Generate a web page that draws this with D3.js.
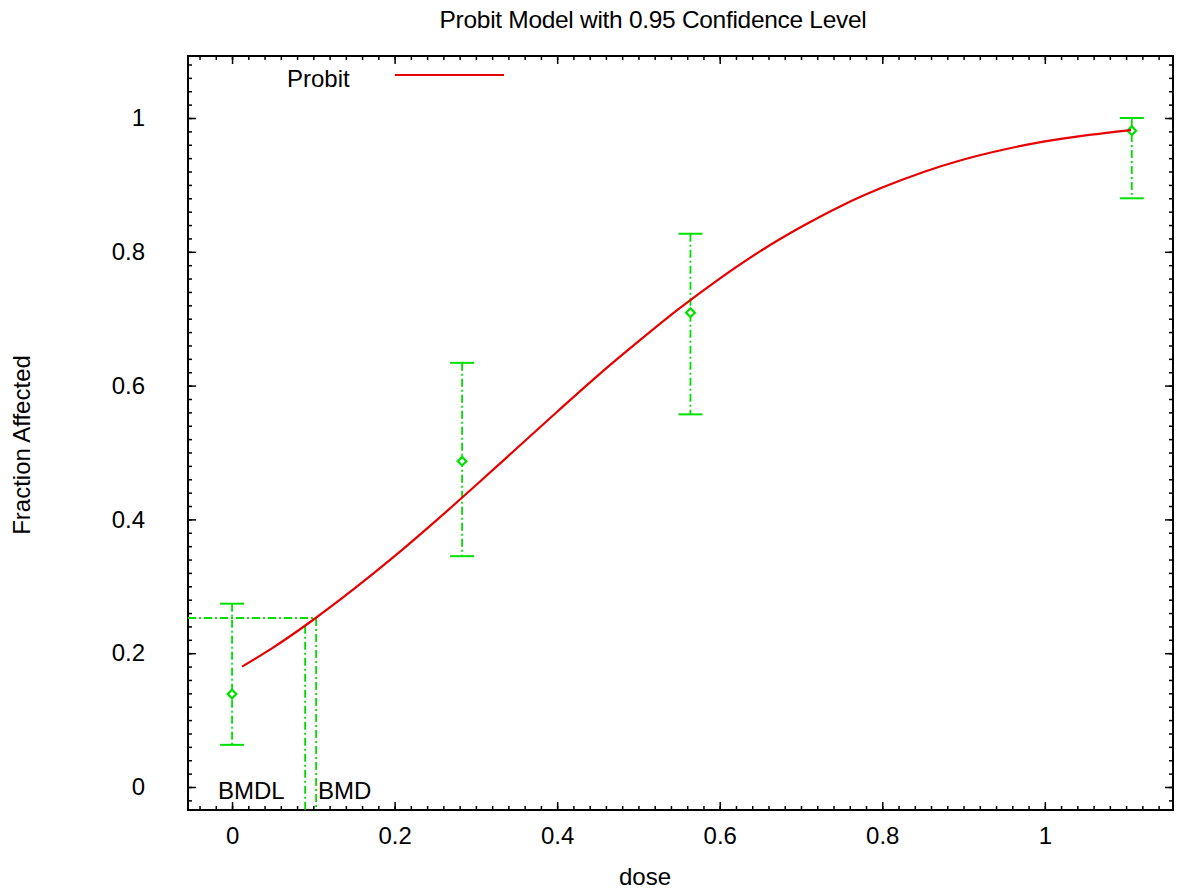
<!DOCTYPE html>
<html>
<head>
<meta charset="utf-8">
<script src="https://cdn.jsdelivr.net/npm/d3@7"></script>
<style>
  body { margin: 0; background: #fff; }
  text { font-family: "Liberation Sans", Arial, sans-serif; fill: #000; }
</style>
</head>
<body>
<svg id="chart" width="1177" height="890"></svg>
<script>
// observed data (dose, fraction affected, 95% limits)
var doses = [0, 0.283, 0.564, 1.107];
var fractions = [0.139, 0.487, 0.709, 0.981];
var lowerCI = [0.063, 0.345, 0.557, 0.880];
var upperCI = [0.274, 0.634, 0.827, 1.0];

// fitted probit curve
var curveDose = [0.0123, 0.05, 0.1, 0.15, 0.2, 0.25, 0.3, 0.35, 0.4, 0.45, 0.5, 0.55,
                 0.6, 0.65, 0.7, 0.75, 0.8, 0.85, 0.9, 0.95, 1.0, 1.05, 1.106];
var curveFrac = [0.180, 0.208, 0.250, 0.296, 0.345, 0.397, 0.451, 0.506, 0.561, 0.615, 0.666, 0.715,
                 0.760, 0.801, 0.837, 0.869, 0.896, 0.919, 0.938, 0.953, 0.965, 0.974, 0.982];

// benchmark dose lines
var bmdLevel = 0.2526;
var bmd = 0.1034;
var bmdl = 0.0899;
var bmdlLevel = 0.241;

var xTicks = [0, 0.2, 0.4, 0.6, 0.8, 1];
var xTickLabels = ["0", "0.2", "0.4", "0.6", "0.8", "1"];
var yTicks = [0, 0.2, 0.4, 0.6, 0.8, 1];
var yTickLabels = ["0", "0.2", "0.4", "0.6", "0.8", "1"];

var green = "#00e000", red = "#e60000";
var dashDot = "8,3,2,3";
var fs = 24;

var svg = d3.select("#chart");
var L = 188, T = 56, R = 1173, B = 810;

var x = d3.scaleLinear().domain([-0.0542, 1.1577]).range([L, R]);
var y = d3.scaleLinear().domain([-0.0344, 1.0927]).range([B, T]);

var minorX = d3.range(-0.04, 1.15, 0.02);
var minorY = d3.range(-0.02, 1.09, 0.02);

// minor ticks, all four sides, pointing inward
svg.append("g").attr("transform", "translate(0," + B + ")")
  .call(d3.axisBottom(x).tickValues(minorX).tickSize(-4).tickFormat(""));
svg.append("g").attr("transform", "translate(0," + T + ")")
  .call(d3.axisTop(x).tickValues(minorX).tickSize(-4).tickFormat(""));
svg.append("g").attr("transform", "translate(" + L + ",0)")
  .call(d3.axisLeft(y).tickValues(minorY).tickSize(-4).tickFormat(""));
svg.append("g").attr("transform", "translate(" + R + ",0)")
  .call(d3.axisRight(y).tickValues(minorY).tickSize(-4).tickFormat(""));

// major ticks
svg.append("g").attr("transform", "translate(0," + B + ")")
  .call(d3.axisBottom(x).tickValues(xTicks).tickSizeInner(-8).tickSizeOuter(0)
    .tickPadding(17).tickFormat(function(d, i){ return xTickLabels[i]; }));
svg.append("g").attr("transform", "translate(0," + T + ")")
  .call(d3.axisTop(x).tickValues(xTicks).tickSize(-8).tickFormat(""));
svg.append("g").attr("transform", "translate(" + L + ",0)")
  .call(d3.axisLeft(y).tickValues(yTicks).tickSizeInner(-8).tickSizeOuter(0)
    .tickPadding(43).tickFormat(function(d, i){ return yTickLabels[i]; }));
svg.append("g").attr("transform", "translate(" + R + ",0)")
  .call(d3.axisRight(y).tickValues(yTicks).tickSize(-8).tickFormat(""));

svg.selectAll(".domain").remove();
svg.selectAll(".tick line").attr("stroke", "#000").attr("stroke-width", 1.5);
svg.selectAll(".tick text").attr("font-size", fs).attr("font-family", "Liberation Sans, Arial, sans-serif").attr("fill", "#000");

// frame
svg.append("rect").attr("x", L).attr("y", T).attr("width", R - L).attr("height", B - T)
  .attr("fill", "none").attr("stroke", "#000").attr("stroke-width", 2);

// error bars
var bars = svg.append("g");
doses.forEach(function(d, i){
  var cx = x(d);
  bars.append("line").attr("x1", cx).attr("x2", cx).attr("y1", y(upperCI[i])).attr("y2", y(lowerCI[i]))
    .attr("stroke", green).attr("stroke-width", 1.8).attr("stroke-dasharray", dashDot);
  [upperCI[i], lowerCI[i]].forEach(function(v){
    bars.append("line").attr("x1", cx - 12).attr("x2", cx + 12).attr("y1", y(v)).attr("y2", y(v))
      .attr("stroke", green).attr("stroke-width", 2);
  });
  bars.append("path").attr("d", d3.symbol(d3.symbolDiamond2, 48)())
    .attr("transform", "translate(" + cx + "," + y(fractions[i]) + ")")
    .attr("fill", "#fff").attr("stroke", green).attr("stroke-width", 2.2);
});

// BMD / BMDL lines
svg.append("line").attr("x1", L).attr("x2", x(bmd)).attr("y1", y(bmdLevel)).attr("y2", y(bmdLevel))
  .attr("stroke", green).attr("stroke-width", 1.8).attr("stroke-dasharray", dashDot);
svg.append("line").attr("x1", x(bmd)).attr("x2", x(bmd)).attr("y1", y(bmdLevel)).attr("y2", B)
  .attr("stroke", green).attr("stroke-width", 1.8).attr("stroke-dasharray", dashDot);
svg.append("line").attr("x1", x(bmdl)).attr("x2", x(bmdl)).attr("y1", y(bmdlLevel)).attr("y2", B)
  .attr("stroke", green).attr("stroke-width", 1.8).attr("stroke-dasharray", dashDot);

// fitted curve
var line = d3.line().x(function(d, i){ return x(curveDose[i]); }).y(function(d){ return y(d); })
  .curve(d3.curveMonotoneX);
svg.append("path").datum(curveFrac).attr("d", line)
  .attr("fill", "none").attr("stroke", red).attr("stroke-width", 2.2);

// labels
svg.append("text").attr("x", 218).attr("y", 799).attr("font-size", fs).text("BMDL");
svg.append("text").attr("x", 318).attr("y", 799).attr("font-size", fs).text("BMD");

// legend
svg.append("text").attr("x", 287).attr("y", 87).attr("font-size", fs).text("Probit");
svg.append("line").attr("x1", 395).attr("x2", 504).attr("y1", 75).attr("y2", 75)
  .attr("stroke", red).attr("stroke-width", 2.2);

// titles
svg.append("text").attr("x", 653).attr("y", 28).attr("text-anchor", "middle")
  .attr("font-size", 24.5).attr("letter-spacing", -0.3).text("Probit Model with 0.95 Confidence Level");
svg.append("text").attr("x", 645).attr("y", 885).attr("text-anchor", "middle")
  .attr("font-size", fs).text("dose");
svg.append("text").attr("transform", "translate(30,445) rotate(-90)").attr("text-anchor", "middle")
  .attr("font-size", fs).text("Fraction Affected");
</script>
</body>
</html>
